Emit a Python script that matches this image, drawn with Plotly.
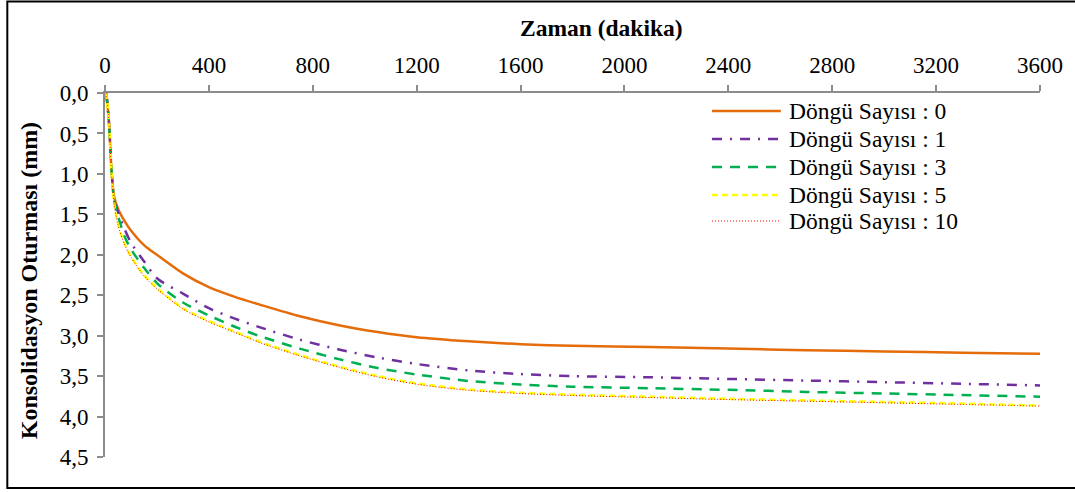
import plotly.graph_objects as go

# ---- data ----
time_min = [5, 15, 25, 35, 50, 75, 100, 150, 200, 300, 400, 500, 600, 750, 900,
            1050, 1200, 1400, 1600, 1800, 2100, 2400, 2700, 3000, 3300, 3600]

cycle_0 = [0.00, 0.35, 0.95, 1.28, 1.43, 1.58, 1.70, 1.88, 2.00, 2.23, 2.40, 2.52, 2.62,
           2.76, 2.87, 2.955, 3.02, 3.07, 3.105, 3.125, 3.14, 3.16, 3.18, 3.195, 3.21, 3.225]
cycle_1 = [0.00, 0.35, 0.95, 1.30, 1.47, 1.68, 1.85, 2.08, 2.29, 2.48, 2.66, 2.79, 2.90,
           3.05, 3.17, 3.27, 3.35, 3.43, 3.475, 3.50, 3.515, 3.535, 3.555, 3.575, 3.595, 3.615]
cycle_3 = [0.00, 0.35, 0.95, 1.32, 1.52, 1.77, 1.93, 2.16, 2.35, 2.59, 2.75, 2.89, 3.01,
           3.16, 3.29, 3.40, 3.48, 3.56, 3.605, 3.63, 3.65, 3.67, 3.695, 3.715, 3.735, 3.755]
cycle_5 = [0.00, 0.35, 0.97, 1.36, 1.62, 1.86, 2.02, 2.25, 2.41, 2.66, 2.82, 2.95, 3.08,
           3.24, 3.38, 3.50, 3.59, 3.665, 3.705, 3.73, 3.755, 3.78, 3.80, 3.82, 3.84, 3.865]
cycle_10 = [0.00, 0.36, 0.98, 1.37, 1.63, 1.87, 2.03, 2.26, 2.42, 2.67, 2.83, 2.96, 3.09,
            3.25, 3.39, 3.51, 3.60, 3.675, 3.715, 3.74, 3.765, 3.79, 3.81, 3.83, 3.85, 3.87]

series_names = ["Döngü Sayısı : 0", "Döngü Sayısı : 1", "Döngü Sayısı : 3",
                "Döngü Sayısı : 5", "Döngü Sayısı : 10"]
series_values = [cycle_0, cycle_1, cycle_3, cycle_5, cycle_10]

x_ticks = [0, 400, 800, 1200, 1600, 2000, 2400, 2800, 3200, 3600]
y_ticks = [0.0, 0.5, 1.0, 1.5, 2.0, 2.5, 3.0, 3.5, 4.0, 4.5]

# ---- styles ----
styles = [
    dict(color="#E46C0A", width=2.5, dash="solid"),
    dict(color="#7030A0", width=2.5, dash="10px,8px,2px,8px"),
    dict(color="#00B050", width=2.5, dash="10px,8px"),
    dict(color="#FFFF00", width=2.5, dash="6px,4px"),
    dict(color="#FF0000", width=1, dash="1px,2px"),
]

W, H = 1075, 492
L, R, T, B = 105, 32, 93, 35
pw, ph = W - L - R, H - T - B

def px_x(px):
    return (px - L) / pw

def px_y(py):
    return (H - B - py) / ph

FONT = "Liberation Serif"
AXC = "#8c8c8c"

fig = go.Figure()
for name, vals, st in zip(series_names, series_values, styles):
    fig.add_trace(go.Scatter(x=time_min, y=vals, mode="lines", name=name, showlegend=False,
                             line=dict(shape="spline", smoothing=0.8, **st)))

# legend drawn as layout items (Excel-like long samples and tight rows)
legend_rows_px = [111, 139, 167, 195, 221]
shapes = [
    dict(type="rect", xref="paper", yref="paper",
         x0=px_x(7), x1=px_x(1095), y0=px_y(488), y1=px_y(1.5),
         line=dict(color="black", width=2), fillcolor="rgba(0,0,0,0)", layer="below"),
]
annotations = [
    dict(text="<b>Zaman (dakika)</b>", xref="paper", yref="paper",
         x=px_x(603), y=px_y(28), xanchor="center", yanchor="middle",
         showarrow=False, font=dict(family=FONT, size=23.5, color="black")),
    dict(text="<b>Konsolidasyon Oturması (mm)</b>", xref="paper", yref="paper",
         x=px_x(29), y=px_y(281), xanchor="center", yanchor="middle", textangle=-90,
         showarrow=False, font=dict(family=FONT, size=24, color="black")),
]
for name, st, ry in zip(series_names, styles, legend_rows_px):
    shapes.append(dict(type="line", xref="paper", yref="paper",
                       x0=px_x(714), x1=px_x(783), y0=px_y(ry), y1=px_y(ry),
                       line=dict(color=st["color"], width=st["width"], dash=st["dash"])))
    annotations.append(dict(text=name, xref="paper", yref="paper",
                            x=px_x(789), y=px_y(ry), xanchor="left", yanchor="middle",
                            showarrow=False, font=dict(family=FONT, size=23.5, color="black")))

fig.update_layout(
    width=W, height=H,
    margin=dict(l=L, r=R, t=T, b=B),
    paper_bgcolor="white", plot_bgcolor="white",
    separators=",.",
    font=dict(family=FONT, size=23, color="black"),
    showlegend=False,
    xaxis=dict(side="top", range=[0, 3600], tickvals=x_ticks, tickformat="d",
               showgrid=False, zeroline=False, showline=True, linecolor=AXC, linewidth=2,
               ticks="outside", ticklen=6, tickcolor=AXC, tickwidth=1.5,
               ticklabelstandoff=3,
               tickfont=dict(family=FONT, size=23, color="black")),
    yaxis=dict(range=[4.5, 0], tickvals=y_ticks, tickformat=".1f",
               showgrid=False, zeroline=False, showline=True, linecolor=AXC, linewidth=2,
               ticks="outside", ticklen=6, tickcolor=AXC, tickwidth=1.5,
               ticklabelstandoff=4,
               tickfont=dict(family=FONT, size=23, color="black")),
    annotations=annotations,
    shapes=shapes,
)

fig.write_html("out.html")
